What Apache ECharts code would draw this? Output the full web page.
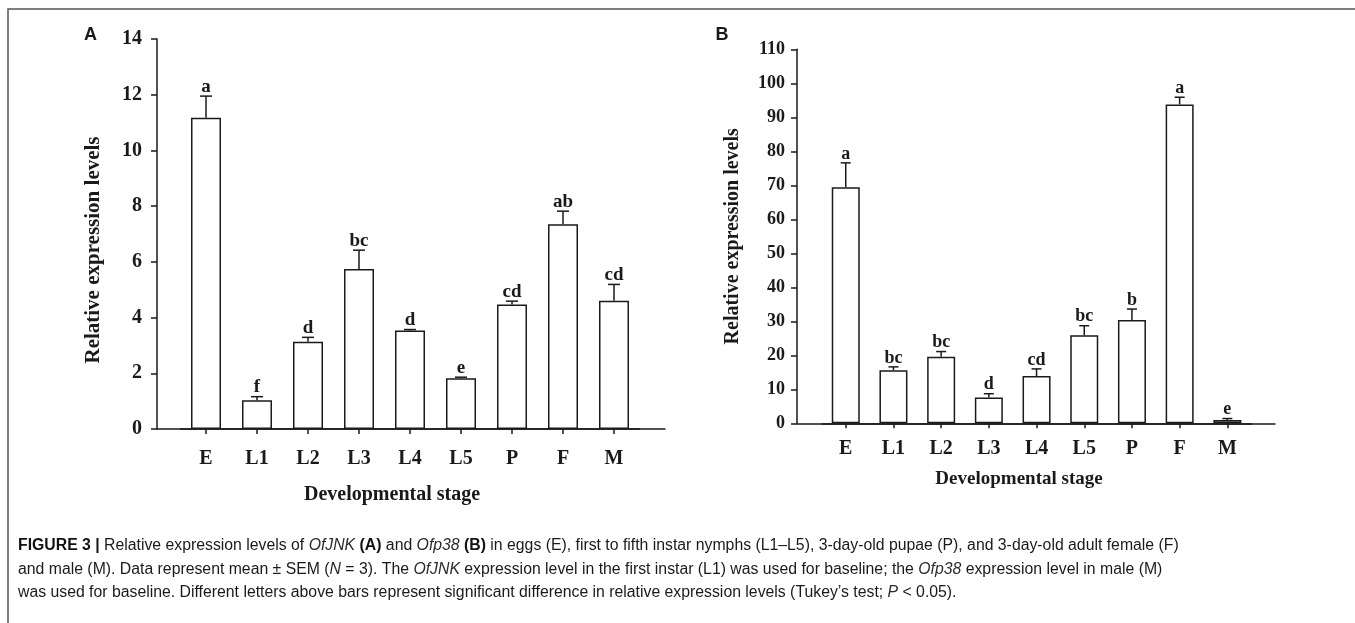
<!DOCTYPE html>
<html>
<head>
<meta charset="utf-8">
<script src="https://cdn.jsdelivr.net/npm/echarts@6/dist/echarts.min.js"></script>
<style>
  html, body { margin: 0; padding: 0; background: #fff; }
  #main { width: 1355px; height: 623px; }
</style>
</head>
<body>
<div id="main"></div>
<script>
// stages
var stages = ['E', 'L1', 'L2', 'L3', 'L4', 'L5', 'P', 'F', 'M'];

// A: OfJNK
var jnkMean = [11.17, 1.03, 3.13, 5.74, 3.54, 1.82, 4.47, 7.35, 4.60];
var jnkSem = [0.78, 0.13, 0.16, 0.68, 0.03, 0.04, 0.12, 0.47, 0.59];
var jnkLetters = ['a', 'f', 'd', 'bc', 'd', 'e', 'cd', 'ab', 'cd'];

// B: Ofp38
var p38Mean = [69.4, 15.6, 19.6, 7.6, 13.9, 25.9, 30.4, 93.8, 1.0];
var p38Sem = [7.2, 1.0, 1.5, 1.1, 2.1, 2.8, 3.2, 2.1, 0.4];
var p38Letters = ['a', 'bc', 'bc', 'd', 'cd', 'bc', 'b', 'a', 'e'];

var serif = '"Liberation Serif", "Times New Roman", serif';
var sans = '"Liberation Sans", Arial, sans-serif';
var ink = '#1a1a1a';

/**
 * error bar + significance letter
 */
function errSeries(xIdx, mean, sem, letters, capW, fontSize) {
	var data = [];
	for (var i = 0; i < mean.length; i++) {
		data.push([i, mean[i], mean[i] + sem[i]]);
	}
	return {
		type : 'custom',
		xAxisIndex : xIdx,
		yAxisIndex : xIdx,
		z : 5,
		data : data,
		renderItem : function(params, api) {
			var base = api.coord([api.value(0), api.value(1)]);
			var top = api.coord([api.value(0), api.value(2)]);
			var style = { stroke : ink, lineWidth : 1.5 };
			return {
				type : 'group',
				children : [ {
					type : 'line',
					shape : { x1 : base[0], y1 : base[1], x2 : top[0], y2 : top[1] },
					style : style
				}, {
					type : 'line',
					shape : { x1 : top[0] - capW / 2, y1 : top[1], x2 : top[0] + capW / 2, y2 : top[1] },
					style : style
				}, {
					type : 'text',
					x : top[0],
					y : top[1],
					style : {
						text : letters[params.dataIndex],
						font : 'bold ' + fontSize + 'px ' + serif,
						fill : ink,
						align : 'center',
						verticalAlign : 'bottom',
						textAlign : 'center',
						textVerticalAlign : 'bottom'
					}
				} ]
			};
		}
	};
}

function frameAxes(gridIdx, max, interval, labelSize, labelMargin, nameSize, nameGap, namePad) {
	return {
		x : {
			type : 'value', gridIndex : gridIdx, min : 0, max : 1,
			axisLine : { show : true, lineStyle : { color : ink, width : 1.5 } },
			axisTick : { show : false }, axisLabel : { show : false },
			splitLine : { show : false }
		},
		y : {
			type : 'value', gridIndex : gridIdx, min : 0, max : max, interval : interval,
			name : 'Relative expression levels',
			nameLocation : 'middle',
			nameGap : nameGap,
			nameRotate : 90,
			nameTextStyle : {
				fontFamily : serif, fontWeight : 'bold', fontSize : nameSize, color : ink,
				padding : namePad
			},
			axisLine : { show : true, lineStyle : { color : ink, width : 1.5 } },
			axisTick : { show : true, length : 6, lineStyle : { color : ink, width : 1.5 } },
			axisLabel : {
				fontFamily : serif, fontWeight : 'bold', fontSize : labelSize, color : ink,
				margin : labelMargin
			},
			splitLine : { show : false }
		}
	};
}

function catAxes(gridIdx, max, margin) {
	return {
		x : {
			type : 'category', gridIndex : gridIdx, data : stages,
			axisLine : { show : true, lineStyle : { color : ink, width : 1.5 } },
			axisTick : { show : true, alignWithLabel : true, length : 5, lineStyle : { color : ink, width : 1.5 } },
			axisLabel : { fontFamily : serif, fontWeight : 'bold', fontSize : 20, color : ink, margin : margin }
		},
		y : { type : 'value', gridIndex : gridIdx, min : 0, max : max, show : false }
	};
}

var fa = frameAxes(0, 14, 2, 20, 15, 21, 53, [0, 32, 0, 0]);
var ca = catAxes(1, 14, 20);
var fb = frameAxes(2, 110, 10, 18, 12, 20, 54, [0, 0, 0, 0]);
var cb = catAxes(3, 110, 16);

function barSeries(idx, mean, w) {
	return {
		type : 'bar',
		xAxisIndex : idx,
		yAxisIndex : idx,
		barWidth : w,
		data : mean,
		itemStyle : { color : '#fff', borderColor : ink, borderWidth : 1.5 }
	};
}

function txt(x, y, text, font, align, rich) {
	return {
		type : 'text', x : x, y : y,
		style : {
			text : text, font : font, fill : ink,
			align : align, textAlign : align,
			verticalAlign : 'middle', textVerticalAlign : 'middle',
			rich : rich
		}
	};
}

var capSize = 15.8;
var capFont = capSize + 'px ' + sans;
var capRich = {
	b : { fontFamily : sans, fontWeight : 'bold', fontSize : capSize, fill : '#111', color : '#111' },
	i : { fontFamily : sans, fontStyle : 'italic', fontSize : capSize, fill : '#2b2b2b', color : '#2b2b2b' }
};
var capLines = [
	'{b|FIGURE 3 |} Relative expression levels of {i|OfJNK} {b|(A)} and {i|Ofp38} {b|(B)} in eggs (E), first to fifth instar nymphs (L1–L5), 3-day-old pupae (P), and 3-day-old adult female (F)',
	'and male (M). Data represent mean ± SEM ({i|N} = 3). The {i|OfJNK} expression level in the first instar (L1) was used for baseline; the {i|Ofp38} expression level in male (M)',
	'was used for baseline. Different letters above bars represent significant difference in relative expression levels (Tukey’s test; {i|P} < 0.05).'
];

var option = {
	animation : false,
	backgroundColor : '#fff',
	grid : [
		{ left : 157, top : 39, width : 508, height : 390 },
		{ left : 180.5, top : 39, width : 459, height : 390 },
		{ left : 797, top : 49.3, width : 478, height : 374 },
		{ left : 821.9, top : 49.3, width : 429.3, height : 374 }
	],
	xAxis : [ fa.x, ca.x, fb.x, cb.x ],
	yAxis : [ fa.y, ca.y, fb.y, cb.y ],
	series : [
		barSeries(1, jnkMean, 30),
		errSeries(1, jnkMean, jnkSem, jnkLetters, 12, 19),
		barSeries(3, p38Mean, 28),
		errSeries(3, p38Mean, p38Sem, p38Letters, 10, 18)
	],
	graphic : [
		{
			type : 'rect',
			shape : { x : 8, y : 9, width : 1400, height : 700 },
			style : { fill : 'none', stroke : '#555', lineWidth : 1.5 }
		},
		txt(90.5, 35, 'A', 'bold 18px ' + sans, 'center'),
		txt(722, 35, 'B', 'bold 18px ' + sans, 'center'),
		txt(392, 495, 'Developmental stage', 'bold 20px ' + serif, 'center'),
		txt(1019, 479, 'Developmental stage', 'bold 19px ' + serif, 'center'),
		txt(18, 546, capLines[0], capFont, 'left', capRich),
		txt(18, 570, capLines[1], capFont, 'left', capRich),
		txt(18, 593, capLines[2], capFont, 'left', capRich)
	]
};

var chart = echarts.init(document.getElementById('main'));
chart.setOption(option);
</script>
</body>
</html>
